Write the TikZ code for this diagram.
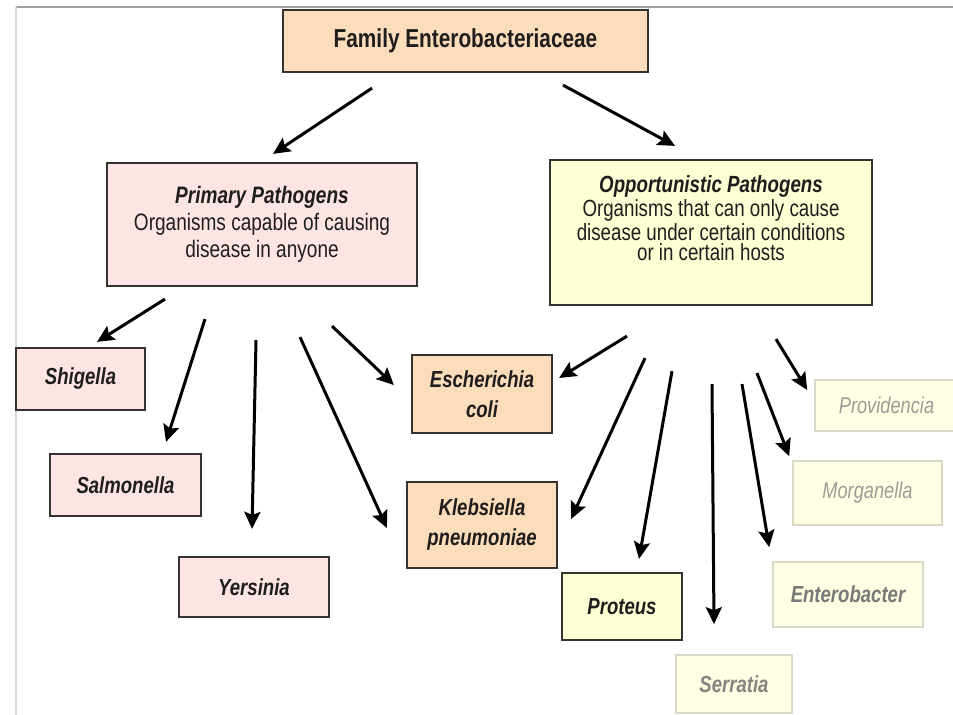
\documentclass[tikz,border=0pt]{standalone}
\usepackage{fontspec}
\setmainfont{Liberation Sans}[FakeStretch=0.8]
\usepackage{tikz}
\usetikzlibrary{arrows.meta,positioning,calc}
\definecolor{entPeach}{HTML}{FBDDBC}
\definecolor{entPink}{HTML}{FCE5E4}
\definecolor{entYellow}{HTML}{FFFFD6}
\definecolor{entPale}{HTML}{FFFFE4}
\definecolor{entEdge}{HTML}{353330}
\definecolor{entFade}{HTML}{DAD8C6}
\definecolor{entInk}{HTML}{201E1C}
\definecolor{entGrey}{HTML}{9C9B96}

\begin{document}
\begin{tikzpicture}[x=0.5pt, y=-0.5pt, >={Stealth[length=8.5pt,width=8pt,inset=1.5pt]},
  box/.style={draw=entEdge, line width=1.1pt, inner sep=0pt, align=center, text=entInk},
  fadebox/.style={draw=entFade, line width=0.8pt, fill=entPale, inner sep=0pt, align=center},
  genus/.style={font=\fontsize{11.6}{15}\selectfont\bfseries\itshape},
  arr/.style={->, line width=1.5pt, black}]
\useasboundingbox (0,0) rectangle (953,715);
% slide frame
\draw[gray!75, line width=1pt] (16,7) -- (953,7);
\draw[gray!30, line width=0.8pt] (16,7) -- (16,715);
% family and the two groups
\node[box, fill=entPeach, minimum width=182.5pt, minimum height=31pt,
  font=\fontsize{13}{15}\selectfont\bfseries] (fam) at (465.5,41) {Family Enterobacteriaceae};
\node[box, fill=entPink, minimum width=155pt, minimum height=61.5pt,
  font=\fontsize{11.9}{13.5}\selectfont] (prim) at (262,224.5)
  {\textbf{\textit{Primary Pathogens}}\\Organisms capable of causing\\disease in anyone};
\node[box, fill=entYellow, minimum width=161pt, minimum height=72.5pt] (opp) at (711,232.5) {};
\node[align=center, text=entInk, font=\fontsize{11.7}{10.3}\selectfont] (opptxt) at ([yshift=7pt]opp.center)
  {\textbf{\textit{Opportunistic Pathogens}}\\Organisms that can only cause\\disease under certain conditions\\or in certain hosts};
% primary pathogens
\node[box, genus, fill=entPink, minimum width=64.5pt, minimum height=31pt] (shig) at (80.5,379) {Shigella};
\node[box, genus, fill=entPink, minimum width=75.5pt, minimum height=31pt] (salm) at (125.5,485) {Salmonella};
\node[box, genus, fill=entPink, minimum width=75pt, minimum height=30pt] (yers) at (254,587) {Yersinia};
% shared
\node[box, genus, fill=entPeach, minimum width=70pt, minimum height=39pt] (ecoli) at (482,394) {Escherichia\\coli};
\node[box, genus, fill=entPeach, minimum width=75pt, minimum height=43pt] (kleb) at (482,525) {Klebsiella\\pneumoniae};
% opportunistic pathogens
\node[box, genus, fill=entYellow, minimum width=60pt, minimum height=33.5pt] (prot) at (622,606.5) {Proteus};
\node[fadebox, genus, text=entGrey!85!black, minimum width=58pt, minimum height=29pt] (serr) at (734,684) {Serratia};
\node[fadebox, genus, text=gray!95!black, minimum width=75pt, minimum height=32.5pt] (entb) at (848,594.5) {Enterobacter};
\node[fadebox, genus, font=\fontsize{11.4}{14}\selectfont\itshape, text=entGrey, minimum width=74.5pt, minimum height=32pt] (morg) at (867.5,493) {Morganella};
\node[fadebox, genus, font=\fontsize{11.4}{14}\selectfont\itshape, text=entGrey, minimum width=71.5pt, minimum height=25.5pt] (prov) at (886.5,405.5) {Providencia};
% arrows from the family
\draw[arr] ([shift={(-93.5,15)}]fam.south) -- ([shift={(11,-8)}]prim.north);
\draw[arr] ([shift={(97.5,12)}]fam.south) -- ([shift={(-36,-13)}]opp.north);
% arrows from primary pathogens
\draw[arr] ([shift={(-97,12)}]prim.south) -- ([shift={(16.5,-5)}]shig.north);
\draw[arr] ([shift={(-57,32)}]prim.south) -- ([shift={(40.5,-11)}]salm.north);
\draw[arr] ([shift={(-6,53)}]prim.south) -- ([shift={(-2,-27)}]yers.north);
\draw[arr] ([shift={(38,50)}]prim.south) -- ([shift={(-19,3)}]kleb.west);
\draw[arr] ([shift={(70,39)}]prim.south) -- ([shift={(-17,-9)}]ecoli.west);
% arrows from opportunistic pathogens
\draw[arr] ([shift={(-84,30)}]opp.south) -- ([shift={(6,-16)}]ecoli.east);
\draw[arr] ([shift={(-66,52)}]opp.south) -- ([shift={(13,-6)}]kleb.east);
\draw[arr] ([shift={(-39,65)}]opp.south) -- ([shift={(17,-13)}]prot.north);
\draw[arr] ([shift={(1,78)}]opp.south) -- ([shift={(-20,-30)}]serr.north);
\draw[arr] ([shift={(31,78)}]opp.south) -- ([shift={(-3,-14)}]entb.north west);
\draw[arr] ([shift={(46,67)}]opp.south) -- ([shift={(-3,-4)}]morg.north west);
\draw[arr] ([shift={(65,33)}]opp.south) -- ([shift={(-7,-15.5)}]prov.west);
\end{tikzpicture}
\end{document}
